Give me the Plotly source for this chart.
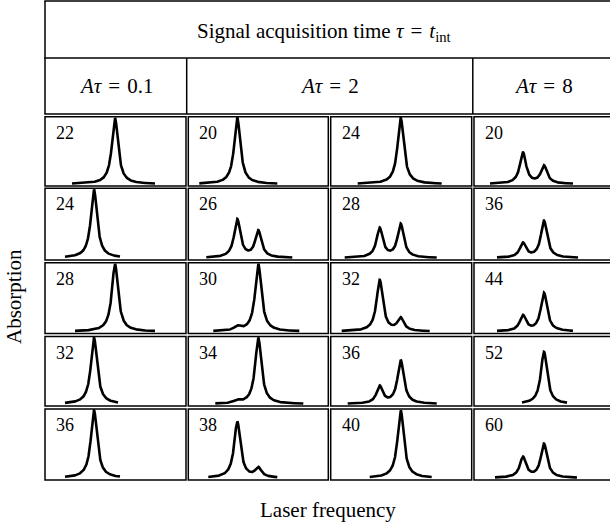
import numpy as np
import plotly.graph_objects as go

# ---- data -------------------------------------------------------------
EQ = "\u2004=\u2004"
title_text = f"Signal acquisition time <i>τ</i>{EQ}<i>t</i><sub>int</sub>"
group_headers = [f"<i>Aτ</i>{EQ}0.1", f"<i>Aτ</i>{EQ}2", f"<i>Aτ</i>{EQ}8"]
x_title = "Laser frequency"
y_title = "Absorption"

# panel labels, 5 rows x 4 columns
labels = [
    [22, 20, 24, 20],
    [24, 26, 28, 36],
    [28, 30, 32, 44],
    [32, 34, 36, 52],
    [36, 38, 40, 60],
]

# frequencies of the two resonances (arb. units)
line_freq = [49.0, 70.0]
half_width = 3.8

# peak absorption of the lower-frequency resonance (fraction of full scale)
amp_low = [
    [0.00, 1.00, 0.00, 0.47],
    [1.00, 0.56, 0.43, 0.21],
    [0.00, 0.06, 0.76, 0.23],
    [1.00, 0.04, 0.26, 0.00],
    [1.00, 0.83, 0.00, 0.30],
]
# peak absorption of the higher-frequency resonance
amp_high = [
    [1.00, 0.00, 1.00, 0.27],
    [0.00, 0.39, 0.49, 0.54],
    [1.00, 1.00, 0.19, 0.57],
    [0.00, 1.00, 0.66, 0.79],
    [0.00, 0.14, 1.00, 0.50],
]
# scanned frequency interval in each panel
scan_start = [
    [27, 11, 27, 16],
    [20, 18, 14, 23],
    [30, 25, 11, 23],
    [20, 27, 17, 48],
    [20, 20, 39, 21],
]
scan_end = [
    [110, 89, 111, 99],
    [75, 104, 106, 104],
    [110, 111, 99, 99],
    [73, 115, 106, 93],
    [75, 89, 101, 103],
]

# ---- layout geometry (pixels) ------------------------------------------
W, H = 610, 527
col_edges = [(45.0, 186.0), (188.3, 328.3), (330.7, 471.7), (474.0, 615.0)]
row_edges = [(116.7, 186.0), (188.3, 260.0), (262.7, 333.5), (336.5, 406.0), (409.0, 480.0)]
head_top, head_mid, head_bot = 1.0, 58.0, 114.0
FONT = "Liberation Serif, Times New Roman, serif"


def px(x):
    return x / W


def py(y):
    return 1 - y / H


def lorentz(f, f0, a):
    return a / (1 + ((f - f0) / half_width) ** 2)


fig = go.Figure()
layout_axes = {}
shapes = []
annotations = []

n = 0
for r in range(5):
    for c in range(4):
        n += 1
        f = np.linspace(scan_start[r][c], scan_end[r][c], 400)
        absorb = lorentz(f, line_freq[0], amp_low[r][c]) + lorentz(f, line_freq[1], amp_high[r][c])
        fig.add_trace(go.Scatter(
            x=f, y=absorb, mode="lines",
            line=dict(color="black", width=2.6),
            xaxis=f"x{n}", yaxis=f"y{n}", showlegend=False, hoverinfo="skip",
        ))
        x0, x1 = col_edges[c]
        y0, y1 = row_edges[r]
        x1v = min(x1, W)  # the last column runs off the page edge
        ax = dict(visible=False, showgrid=False, zeroline=False, fixedrange=True)
        layout_axes[f"xaxis{n}"] = dict(ax, domain=[px(x0), px(x1v)], range=[0, x1v - x0],
                                        anchor=f"y{n}")
        layout_axes[f"yaxis{n}"] = dict(ax, domain=[py(y1), py(y0)], range=[-0.03, 1.02],
                                        anchor=f"x{n}")
        shapes.append(dict(type="rect", xref="paper", yref="paper",
                           x0=px(x0), x1=px(x1), y0=py(y1), y1=py(y0),
                           line=dict(color="black", width=1.5)))
        annotations.append(dict(text=str(labels[r][c]), xref="paper", yref="paper",
                                x=px(x0 + 9), y=py(y0 + 16), xanchor="left", yanchor="middle",
                                showarrow=False, font=dict(family=FONT, size=18, color="black")))

# header frame
line = dict(color="black", width=1.5)
for y in (head_top, head_mid, head_bot):
    shapes.append(dict(type="line", xref="paper", yref="paper",
                       x0=px(44.3), x1=px(615), y0=py(y), y1=py(y), line=line))
shapes.append(dict(type="line", xref="paper", yref="paper",
                   x0=px(45), x1=px(45), y0=py(head_bot), y1=py(head_top), line=line))
for x in (186.7, 472.8):
    shapes.append(dict(type="line", xref="paper", yref="paper",
                       x0=px(x), x1=px(x), y0=py(head_bot), y1=py(head_mid), line=line))

annotations.append(dict(text=title_text, xref="paper", yref="paper",
                        x=px(324), y=py(32), xanchor="center", yanchor="middle",
                        showarrow=False, font=dict(family=FONT, size=21, color="black")))
group_centres = [(45 + 186.7) / 2, (186.7 + 472.8) / 2, (472.8 + 615) / 2]
for txt, xc in zip(group_headers, group_centres):
    annotations.append(dict(text=txt, xref="paper", yref="paper",
                            x=px(xc), y=py(86), xanchor="center", yanchor="middle",
                            showarrow=False, font=dict(family=FONT, size=21, color="black")))

annotations.append(dict(text=x_title, xref="paper", yref="paper",
                        x=px(328), y=py(510), xanchor="center", yanchor="middle",
                        showarrow=False, font=dict(family=FONT, size=21, color="black")))
annotations.append(dict(text=y_title, xref="paper", yref="paper",
                        x=px(14), y=py(297), xanchor="center", yanchor="middle", textangle=-90,
                        showarrow=False, font=dict(family=FONT, size=21, color="black")))

fig.update_layout(
    width=W, height=H,
    margin=dict(l=0, r=0, t=0, b=0),
    paper_bgcolor="white", plot_bgcolor="white",
    shapes=shapes, annotations=annotations,
    **layout_axes,
)

fig.write_html("out.html")
